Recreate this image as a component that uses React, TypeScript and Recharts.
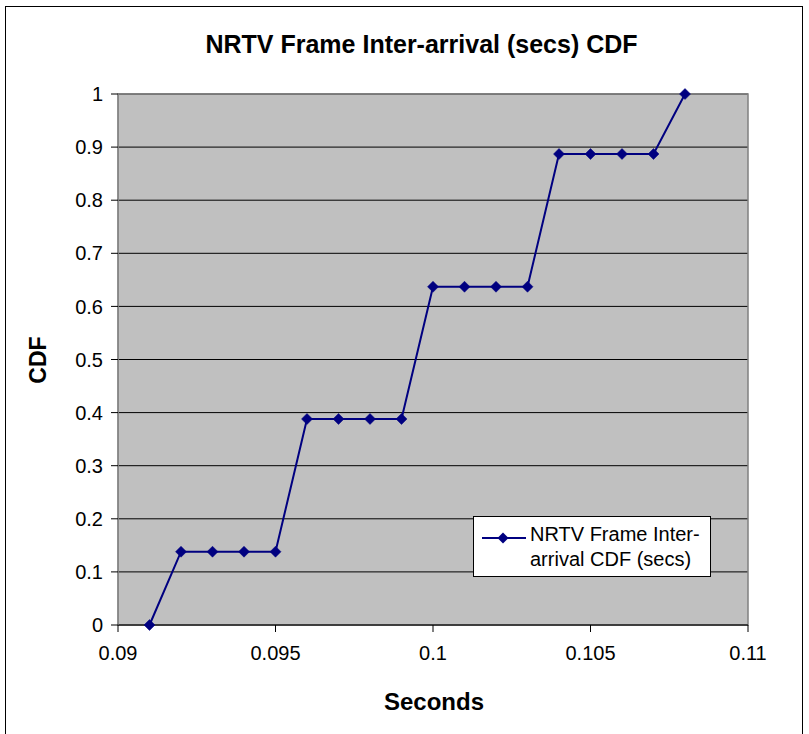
import React from 'react';
import {
    LineChart,
    Line,
    XAxis,
    YAxis,
    CartesianGrid,
    ReferenceArea,
} from 'recharts';

const seconds = [0.091, 0.092, 0.093, 0.094, 0.095, 0.096, 0.097, 0.098, 0.099, 0.1, 0.101, 0.102, 0.103, 0.104, 0.105, 0.106, 0.107, 0.108];
const cdfValues = [0, 0.138, 0.138, 0.138, 0.138, 0.388, 0.388, 0.388, 0.388, 0.637, 0.637, 0.637, 0.637, 0.887, 0.887, 0.887, 0.887, 1];
const xTicks = [0.09, 0.095, 0.1, 0.105, 0.11];
const yTicks = [0, 0.1, 0.2, 0.3, 0.4, 0.5, 0.6, 0.7, 0.8, 0.9, 1];

const data = seconds.map((s, i) => ({ s, cdf: cdfValues[i] }));

const FONT = '"Liberation Sans", Arial, sans-serif';
const NAVY = '#000080';

const Diamond = (props: { cx?: number; cy?: number }) => {
    const { cx, cy } = props;
    if (cx == null || cy == null) return null;
    const r = 5.5;
    return <path d={`M${cx},${cy - r}L${cx + r},${cy}L${cx},${cy + r}L${cx - r},${cy}Z`} fill={NAVY} stroke={NAVY} strokeWidth={0.5} />;
};

// legend drawn as an overlay box, like the Excel one
const LegendBox = () => (
    <div
        style={{
            position: 'absolute',
            left: 473,
            top: 516,
            width: 238,
            height: 61,
            background: '#fff',
            border: '1px solid #000',
            fontFamily: FONT,
            fontSize: 20,
            color: '#000',
            display: 'flex',
            boxSizing: 'border-box',
        }}
    >
        <svg width={50} height={20} style={{ marginLeft: 6, flexShrink: 0, marginTop: 11 }}>
            <line x1={2} y1={10} x2={46} y2={10} stroke={NAVY} strokeWidth={2} />
            <path d="M23,4.5L28.5,10L23,15.5L17.5,10Z" fill={NAVY} />
        </svg>
        <div style={{ lineHeight: '25px', marginLeft: 0, marginTop: 5 }}>
            NRTV Frame Inter-
            <br />
            arrival CDF (secs)
        </div>
    </div>
);

export default function App() {
    return (
        <div style={{ position: 'absolute', left: 0, top: 0, width: 809, height: 734, background: '#fff', fontFamily: FONT, overflow: 'hidden' }}>
            <div style={{ position: 'absolute', left: 5, top: 6, width: 798, height: 740, border: '1px solid #000', boxSizing: 'border-box' }} />
            <div style={{ position: 'absolute', left: 0, width: 843, top: 30, textAlign: 'center', fontWeight: 'bold', fontSize: 25 }}>
                NRTV Frame Inter-arrival (secs) CDF
            </div>
            <div
                style={{
                    position: 'absolute',
                    left: 38,
                    top: 360,
                    transform: 'translate(-50%, -50%) rotate(-90deg)',
                    fontWeight: 'bold',
                    fontSize: 23,
                }}
            >
                CDF
            </div>
            <div style={{ position: 'absolute', left: 0, width: 868, top: 688, textAlign: 'center', fontWeight: 'bold', fontSize: 24 }}>
                Seconds
            </div>
            <div style={{ position: 'absolute', left: 0, top: 0 }}>
                <LineChart width={809} height={734} data={data} margin={{ top: 94, right: 61, bottom: 0, left: 0 }}>
                    <CartesianGrid fill="#C0C0C0" stroke="#000" vertical={false} />
                    <ReferenceArea x1={0.09} x2={0.11} y1={0} y2={1} fill="none" stroke="#808080" strokeWidth={1.5} />
                    <XAxis
                        dataKey="s"
                        type="number"
                        domain={[0.09, 0.11]}
                        ticks={xTicks}
                        height={109}
                        tick={{ fontSize: 20, fill: '#000', fontFamily: FONT, dy: 12 }}
                        tickLine={{ stroke: '#000' }}
                        tickSize={7}
                        axisLine={{ stroke: '#000' }}
                        interval={0}
                    />
                    <YAxis
                        type="number"
                        domain={[0, 1]}
                        ticks={yTicks}
                        width={118}
                        tick={{ fontSize: 20, fill: '#000', fontFamily: FONT, dx: -6 }}
                        tickLine={{ stroke: '#000' }}
                        tickSize={7}
                        axisLine={{ stroke: '#808080' }}
                        interval={0}
                    />
                    <Line
                        dataKey="cdf"
                        stroke={NAVY}
                        strokeWidth={2}
                        dot={<Diamond />}
                        activeDot={false}
                        isAnimationActive={false}
                    />
                </LineChart>
            </div>
            <LegendBox />
        </div>
    );
}
